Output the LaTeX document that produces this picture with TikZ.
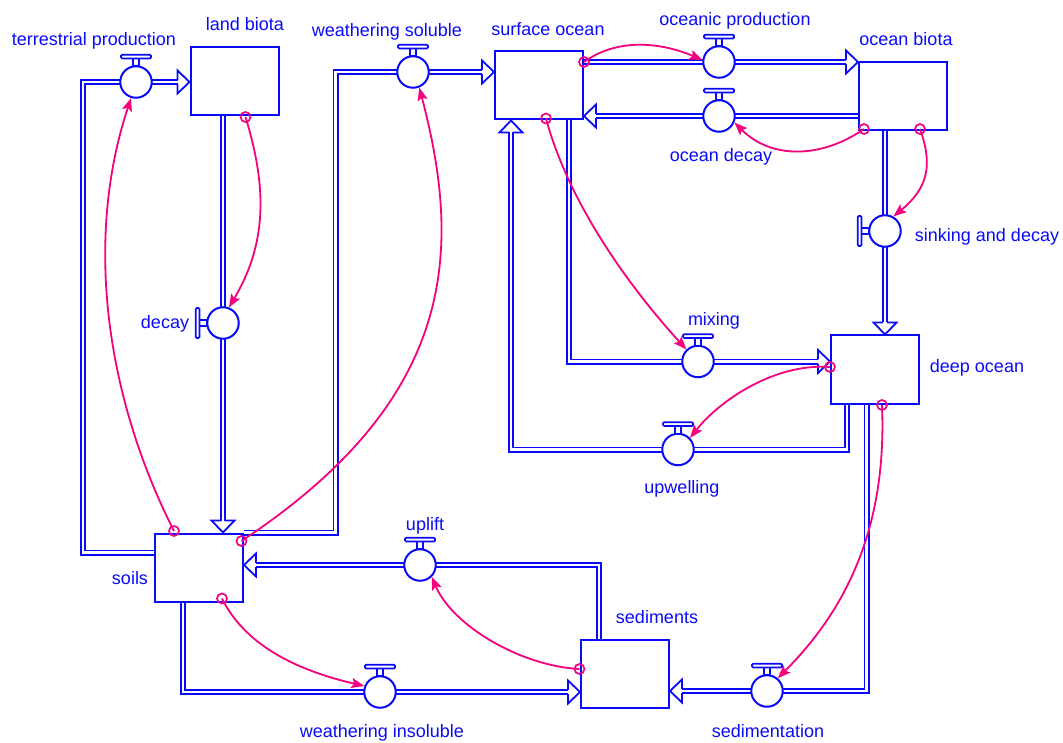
\documentclass[tikz,border=0pt]{standalone}
\usepackage{fontspec}
\setmainfont{Liberation Sans}
\usetikzlibrary{arrows.meta,calc}
\definecolor{vblue}{RGB}{10,10,250}
\definecolor{vpink}{RGB}{245,0,125}
\pgfdeclarelayer{back}
\pgfsetlayers{back,main}
\newcommand\headR[1]{\draw[head] ($(#1)+(-12,-2.1)$) -- ++(0,-9.4) -- (#1) -- ($(#1)+(-12,11.5)$) -- ++(0,-9.4);}
\newcommand\headL[1]{\draw[head] ($(#1)+(12,-2.1)$) -- ++(0,-9.4) -- (#1) -- ($(#1)+(12,11.5)$) -- ++(0,-9.4);}
\newcommand\headD[1]{\draw[head] ($(#1)+(-2.1,-12)$) -- ++(-9.4,0) -- (#1) -- ($(#1)+(11.5,-12)$) -- ++(-9.4,0);}
\newcommand\headU[1]{\draw[head] ($(#1)+(-2.1,12)$) -- ++(-9.4,0) -- (#1) -- ($(#1)+(11.5,12)$) -- ++(-9.4,0);}
\newcommand\handleT[1]{\draw[handle] ($(#1)+(-3,-16)$) rectangle ($(#1)+(3,-23.5)$);
  \draw[handle,rounded corners=1.2pt] ($(#1)+(-15,-23.5)$) rectangle ($(#1)+(15,-27.3)$);}
\newcommand\handleL[1]{\draw[handle] ($(#1)+(-16,-3)$) rectangle ($(#1)+(-23.5,3)$);
  \draw[handle,rounded corners=1.2pt] ($(#1)+(-23.5,-15)$) rectangle ($(#1)+(-27.3,15)$);}
\begin{document}
\begin{tikzpicture}[x=1pt,y=-1pt,
  stock/.style={draw=vblue,line width=2pt,minimum width=88pt,minimum height=68pt,inner sep=0pt,fill=white},
  valve/.style={circle,draw=vblue,line width=2pt,minimum size=31.5pt,inner sep=0pt,fill=white},
  pipe/.style={draw=vblue,line width=1.8pt,double=white,double distance=2.4pt},
  head/.style={draw=vblue,line width=1.8pt,line join=miter},
  handle/.style={draw=vblue,line width=1.7pt,fill=white},
  lbl/.style={text=vblue,font=\fontsize{18}{20}\selectfont,anchor=base,inner sep=0pt},
  infl/.style={draw=vpink,line width=1.8pt,-{Stealth[length=13pt,width=10pt,inset=2.5pt]}},
  org/.style={draw=vpink,line width=1.7pt,circle,minimum size=10pt,inner sep=0pt},
]
\useasboundingbox (0,0) rectangle (1063,743);

% stocks
\node[stock] (landbiota) at (234.5,81.5) {};
\node[stock] (surfaceocean) at (539,85.5) {};
\node[stock] (oceanbiota) at (903,96) {};
\node[stock] (deepocean) at (875,369.5) {};
\node[stock] (soils) at (199,567.5) {};
\node[stock] (sediments) at (625,674) {};

% valves
\node[valve] (tp) at (136,82) {};
\node[valve] (dec) at (223,323) {};
\node[valve] (ws) at (413,72) {};
\node[valve] (op) at (719,62) {};
\node[valve] (od) at (719,116) {};
\node[valve] (sd) at (885,231) {};
\node[valve] (mix) at (698,361.5) {};
\node[valve] (upw) at (678,449.5) {};
\node[valve] (sed) at (767,691) {};
\node[valve] (wi) at (380,692) {};
\node[valve] (upl) at (420,565) {};

\handleT{tp} \handleL{dec} \handleT{ws} \handleT{op} \handleT{od} \handleL{sd}
\handleT{mix} \handleT{upw} \handleT{sed} \handleT{wi} \handleT{upl}

% arrow tips of flows
\coordinate (t1) at (landbiota.west |- tp.center);
\coordinate (t2) at (223,0 |- soils.north);
\coordinate (t3) at (surfaceocean.west |- ws.center);
\coordinate (t4) at (oceanbiota.west |- op.center);
\coordinate (t5) at (surfaceocean.east |- od.center);
\coordinate (t6) at (sd.center |- deepocean.north);
\coordinate (t7) at (deepocean.west |- mix.center);
\coordinate (t8) at (511,0 |- surfaceocean.south);
\coordinate (t9) at (sediments.east |- sed.center);
\coordinate (t10) at (sediments.west |- wi.center);
\coordinate (t11) at (soils.east |- upl.center);

\begin{pgfonlayer}{back}
\draw[pipe] (soils.west |- 0,552.5) -| (83,82) -- (tp.center) -- ($(t1)+(-12,0)$);
\draw[pipe] (223,0 |- landbiota.south) -- (dec.center) -- ($(t2)+(0,-12)$);
\draw[pipe] (soils.east |- 0,532.5) -| (335.5,72) -- (ws.center) -- ($(t3)+(-12,0)$);
\draw[pipe] (surfaceocean.east |- op.center) -- (op.center) -- ($(t4)+(-12,0)$);
\draw[pipe] (oceanbiota.west |- od.center) -- (od.center) -- ($(t5)+(12,0)$);
\draw[pipe] (sd.center |- oceanbiota.south) -- (sd.center) -- ($(t6)+(0,-12)$);
\draw[pipe] (569,0 |- surfaceocean.south) |- (mix.center) -- ($(t7)+(-12,0)$);
\draw[pipe] (847,0 |- deepocean.south) |- (upw.center) -| ($(t8)+(0,12)$);
\draw[pipe] (866.5,0 |- deepocean.south) |- (sed.center) -- ($(t9)+(12,0)$);
\draw[pipe] (183,0 |- soils.south) |- (wi.center) -- ($(t10)+(-12,0)$);
\draw[pipe] (598.7,0 |- sediments.north) |- (upl.center) -- ($(t11)+(12,0)$);
\end{pgfonlayer}

\headR{t1} \headD{t2} \headR{t3} \headR{t4} \headL{t5} \headD{t6}
\headR{t7} \headU{t8} \headL{t9} \headR{t10} \headL{t11}

% influence origins
\coordinate (a0) at (174,531);
\coordinate (b0) at (245.5,117);
\coordinate (c0) at (241.5,541);
\coordinate (d0) at (584,62);
\coordinate (e0) at (864,129);
\coordinate (f0) at (920,129);
\coordinate (g0) at (546,118.5);
\coordinate (h0) at (830,367);
\coordinate (i0) at (882,405);
\coordinate (j0) at (579.5,669);
\coordinate (k0) at (222,598.5);

\draw[infl] (a0) .. controls (106,397) and (84,240) .. (tp.-107);
\draw[infl] (b0) .. controls (268,190) and (266,245) .. (dec.69);
\draw[infl] (c0) .. controls (458,398) and (462,250) .. (ws.-68);
\draw[infl] (d0) .. controls (620,36) and (665,44) .. (op.173);
\draw[infl] (e0) .. controls (822,158) and (772,160) .. (od.-23);
\draw[infl] (f0) .. controls (933,165) and (928,188) .. (sd.60);
\draw[infl] (g0) .. controls (568,200) and (625,282) .. (mix.134);
\draw[infl] (h0) .. controls (775,363) and (720,400) .. (upw.44);
\draw[infl] (i0) .. controls (887,525) and (848,608) .. (sed.50);
\draw[infl] (j0) .. controls (520,666) and (452,625) .. (upl.-45);
\draw[infl] (k0) .. controls (247,649) and (304,672) .. (wi.159);

\node[org] (oa) at (a0) {};
\node[org] (ob) at (b0) {};
\node[org] (oc) at (c0) {};
\node[org] (od0) at (d0) {};
\node[org] (oe) at (e0) {};
\node[org] (of) at (f0) {};
\node[org] (og) at (g0) {};
\node[org] (oh) at (h0) {};
\node[org] (oi) at (i0) {};
\node[org] (oj) at (j0) {};
\node[org] (ok) at (k0) {};

% labels
\node[lbl] (l1) at (94,46) {terrestrial production};
\node[lbl] (l2) at (245,31) {land biota};
\node[lbl] (l3) at (387,37) {weathering soluble};
\node[lbl] (l4) at (548,36) {surface ocean};
\node[lbl] (l5) at (735,26) {oceanic production};
\node[lbl] (l6) at (906,46) {ocean biota};
\node[lbl] (l7) at (721,162) {ocean decay};
\node[lbl] (l8) at (987,242) {sinking and decay};
\node[lbl] (l9) at (165,329) {decay};
\node[lbl] (l10) at (714,326) {mixing};
\node[lbl] (l11) at (977,372) {deep ocean};
\node[lbl] (l12) at (682,493) {upwelling};
\node[lbl] (l13) at (425,530) {uplift};
\node[lbl] (l14) at (130,584) {soils};
\node[lbl] (l15) at (657,623) {sediments};
\node[lbl] (l16) at (382,737) {weathering insoluble};
\node[lbl] (l17) at (768,737) {sedimentation};
\end{tikzpicture}
\end{document}
